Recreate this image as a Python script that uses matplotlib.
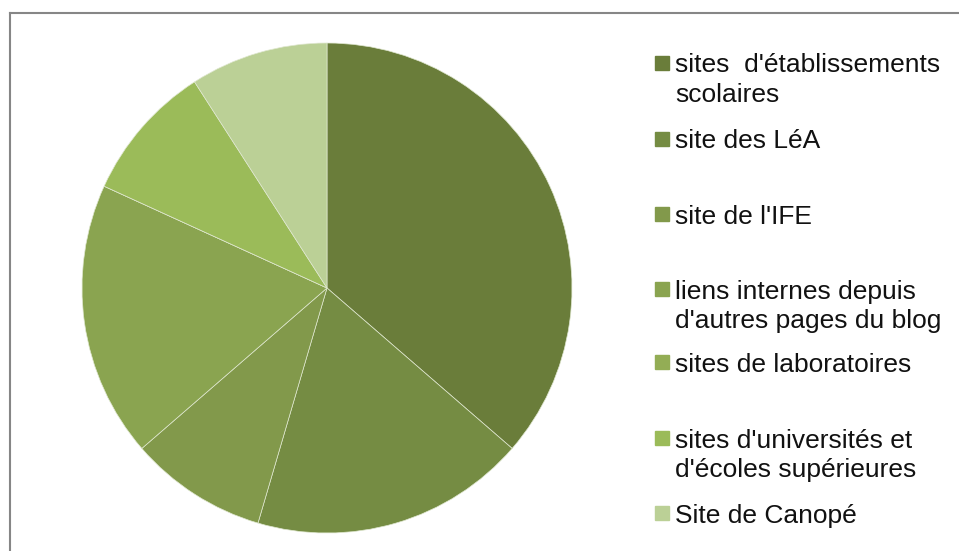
import matplotlib.pyplot as plt
from matplotlib.patches import Rectangle
from matplotlib.lines import Line2D

labels = [
    "sites  d'établissements\nscolaires",
    "site des LéA",
    "site de l'IFE",
    "liens internes depuis\nd'autres pages du blog",
    "sites de laboratoires",
    "sites d'universités et\nd'écoles supérieures",
    "Site de Canopé",
]
values = [4, 2, 1, 2, 0, 1, 1]
colors = ["#6a7d3a", "#758c43", "#82994b", "#8aa450", "#93ad55", "#9bbb59", "#bbd096"]

W, H = 959, 551
fig = plt.figure(figsize=(W / 100, H / 100), dpi=100)
plt.rcParams['font.family'] = ['Liberation Sans', 'DejaVu Sans']

# pie: centre (327, 288), radius 245 px
cx, cy, r = 327, 288, 245
ax = fig.add_axes([(cx - r) / W, (H - cy - r) / H, 2 * r / W, 2 * r / H])
ax.pie(values, colors=colors, startangle=90, counterclock=False,
       wedgeprops=dict(edgecolor="#dfe7cf", linewidth=0.5))
ax.set_xlim(-1, 1)
ax.set_ylim(-1, 1)
ax.set_aspect('auto')

# chart frame (only top and left edges visible)
fig.add_artist(Line2D([10 / W, 1.0], [1 - 13 / H, 1 - 13 / H], color="#868686", lw=1.5))
fig.add_artist(Line2D([10 / W, 10 / W], [1 - 13 / H, 0.0], color="#868686", lw=1.5))

# legend, drawn by hand
y_rows = [63, 139, 214, 289, 362, 438, 513]
for lab, col, yr in zip(labels, colors, y_rows):
    fig.add_artist(Rectangle((655 / W, 1 - (yr + 7) / H), 14 / W, 14 / H,
                             transform=fig.transFigure, color=col))
    fig.text(675 / W, 1 - (yr - 9.5) / H, lab, fontsize=19, va='top', ha='left',
             color="#111111", linespacing=1.28)

fig.savefig("out.png", dpi=100)
